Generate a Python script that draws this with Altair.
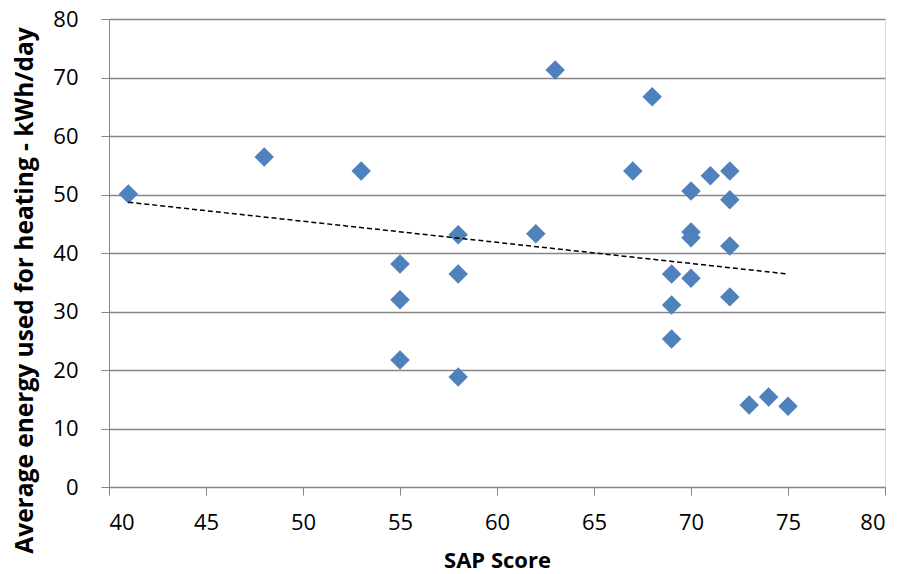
import altair as alt
import pandas as pd

sap = [41, 48, 53, 55, 55, 55, 58, 58, 58, 62, 63, 67, 68, 69, 69, 69,
       70, 70, 70, 70, 71, 72, 72, 72, 72, 73, 74, 75]
energy = [50.1, 56.4, 54.0, 38.1, 32.0, 21.7, 43.1, 36.4, 18.8, 43.3, 71.3, 54.0, 66.7, 36.4, 31.1, 25.3,
          50.6, 43.6, 42.6, 35.7, 53.2, 54.0, 49.1, 41.2, 32.5, 14.0, 15.4, 13.8]
x_ticks = [40, 45, 50, 55, 60, 65, 70, 75, 80]
y_ticks = [0, 10, 20, 30, 40, 50, 60, 70, 80]

df = pd.DataFrame({"sap": sap, "energy": energy})

FONT = "Open Sans"
GRID = "#868686"

x_enc = alt.X("sap:Q", scale=alt.Scale(domain=[40, 80], nice=False, zero=False),
              axis=alt.Axis(values=x_ticks, title="SAP Score", grid=False,
                            domainColor=GRID, tickColor=GRID, tickSize=8,
                            labelFont=FONT, labelFontSize=22, labelColor="#000000",
                            labelBaseline="alphabetic", labelPadding=34,
                            titleFont=FONT, titleFontSize=22, titleFontWeight="bold",
                            titleColor="#000000", titleBaseline="alphabetic",
                            titleY=80))
y_enc = alt.Y("energy:Q", scale=alt.Scale(domain=[0, 80], nice=False),
              axis=alt.Axis(values=y_ticks, title="Average energy used for heating - kWh/day",
                            grid=True, gridColor=GRID, gridWidth=1.3,
                            domainColor=GRID, tickColor=GRID, tickSize=8,
                            labelFont=FONT, labelFontSize=22, labelColor="#000000",
                            labelPadding=23,
                            titleFont=FONT, titleFontSize=24.5, titleFontWeight="bold",
                            titleColor="#000000", titleBaseline="alphabetic",
                            titleAngle=270, titleX=-77, titleY=271))

points = alt.Chart(df).mark_point(shape="diamond", filled=True, size=380,
                                  color="#4F81BD", opacity=1).encode(x=x_enc, y=y_enc)

trend = alt.Chart(df).transform_regression("sap", "energy").mark_line(
    color="#000000", strokeWidth=1.5, strokeDash=[5, 3]).encode(x="sap:Q", y="energy:Q")

chart = alt.layer(points, trend).properties(
    width=776, height=468,
    autosize=alt.AutoSizeParams(type="none"),
    padding={"left": 101, "top": 11, "right": 12, "bottom": 86},
).configure_view(stroke=None).configure(background="#ffffff")

chart.save("out.html", embed_options={"renderer": "svg", "actions": False})
